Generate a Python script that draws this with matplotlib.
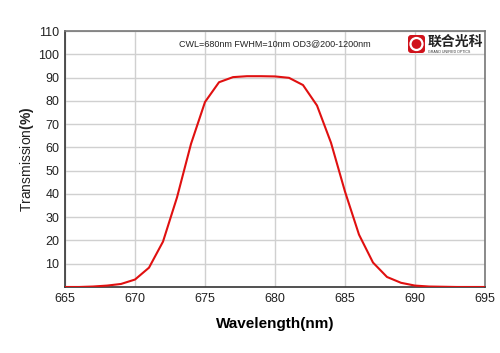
import numpy as np
import matplotlib
matplotlib.use("Agg")
import matplotlib.pyplot as plt
from matplotlib.patches import FancyBboxPatch, Circle

wavelength = [665, 666, 667, 668, 669, 670, 671, 672, 673, 674, 675, 676, 677, 678, 679, 680,
              681, 682, 683, 684, 685, 686, 687, 688, 689, 690, 691, 692, 693, 694, 695]
transmission = [0.0, 0.0, 0.2, 0.6, 1.3, 3.2, 8.3, 19.5, 38.5, 61.5, 79.5, 88.0, 90.2, 90.6, 90.6, 90.5,
                89.9, 86.8, 78.0, 62.0, 41.0, 22.5, 10.5, 4.3, 1.8, 0.6, 0.2, 0.1, 0.0, 0.0, 0.0]
xticks = [665, 670, 675, 680, 685, 690, 695]
yticks = [10, 20, 30, 40, 50, 60, 70, 80, 90, 100, 110]

plt.rcParams['font.family'] = ['Liberation Sans', 'Noto Sans CJK SC', 'DejaVu Sans']
plt.rcParams['mathtext.fontset'] = 'custom'
plt.rcParams['mathtext.bf'] = 'Liberation Sans:bold'

fig = plt.figure(figsize=(5, 3.53), dpi=100)
ax = fig.add_axes([0.13, 0.187, 0.84, 0.725])

ax.plot(wavelength, transmission, color='#e01010', lw=1.5, zorder=3)

ax.set_xlim(665, 695)
ax.set_ylim(0, 110)
ax.set_xticks(xticks)
ax.set_yticks(yticks)
ax.grid(True, color='#d0d0d0', lw=1.0)
ax.tick_params(length=0, labelsize=9, colors='#222222', pad=4)

for side in ['left', 'bottom']:
    ax.spines[side].set_color('#333333')
    ax.spines[side].set_linewidth(1.2)
for side in ['top', 'right']:
    ax.spines[side].set_color('#777777')
    ax.spines[side].set_linewidth(1.2)

ax.set_xlabel('Wavelength(nm)', fontsize=11, fontweight='bold', labelpad=9)
ax.set_ylabel(r'Transmission$\mathbf{(\%)}$', fontsize=10, labelpad=2, color='#222222')

ax.text(0.5, 0.95, 'CWL=680nm FWHM=10nm OD3@200-1200nm', transform=ax.transAxes,
        fontsize=6.5, ha='center', va='center', color='#222222')

# logo (display coords, origin bottom-left)
logo = FancyBboxPatch((408, 300), 17, 18, boxstyle='round,pad=0,rounding_size=3',
                      transform=None, facecolor='#d0121b', edgecolor='none', zorder=5)
fig.patches.append(logo)
fig.patches.append(Circle((416.5, 309), 6, transform=None, facecolor='none',
                          edgecolor='white', lw=1.6, zorder=6))
fig.text(428 / 500, 1 - 42 / 353, '联合光科', fontsize=10, fontweight='bold',
         family=['Noto Sans CJK SC', 'DejaVu Sans'], va='center', ha='left', color='#222222')
fig.text(428 / 500, 1 - 52 / 353, 'GRAND UNIFIED OPTICS', fontsize=2.6,
         va='center', ha='left', color='#333333')

fig.savefig('out.png', dpi=100)
